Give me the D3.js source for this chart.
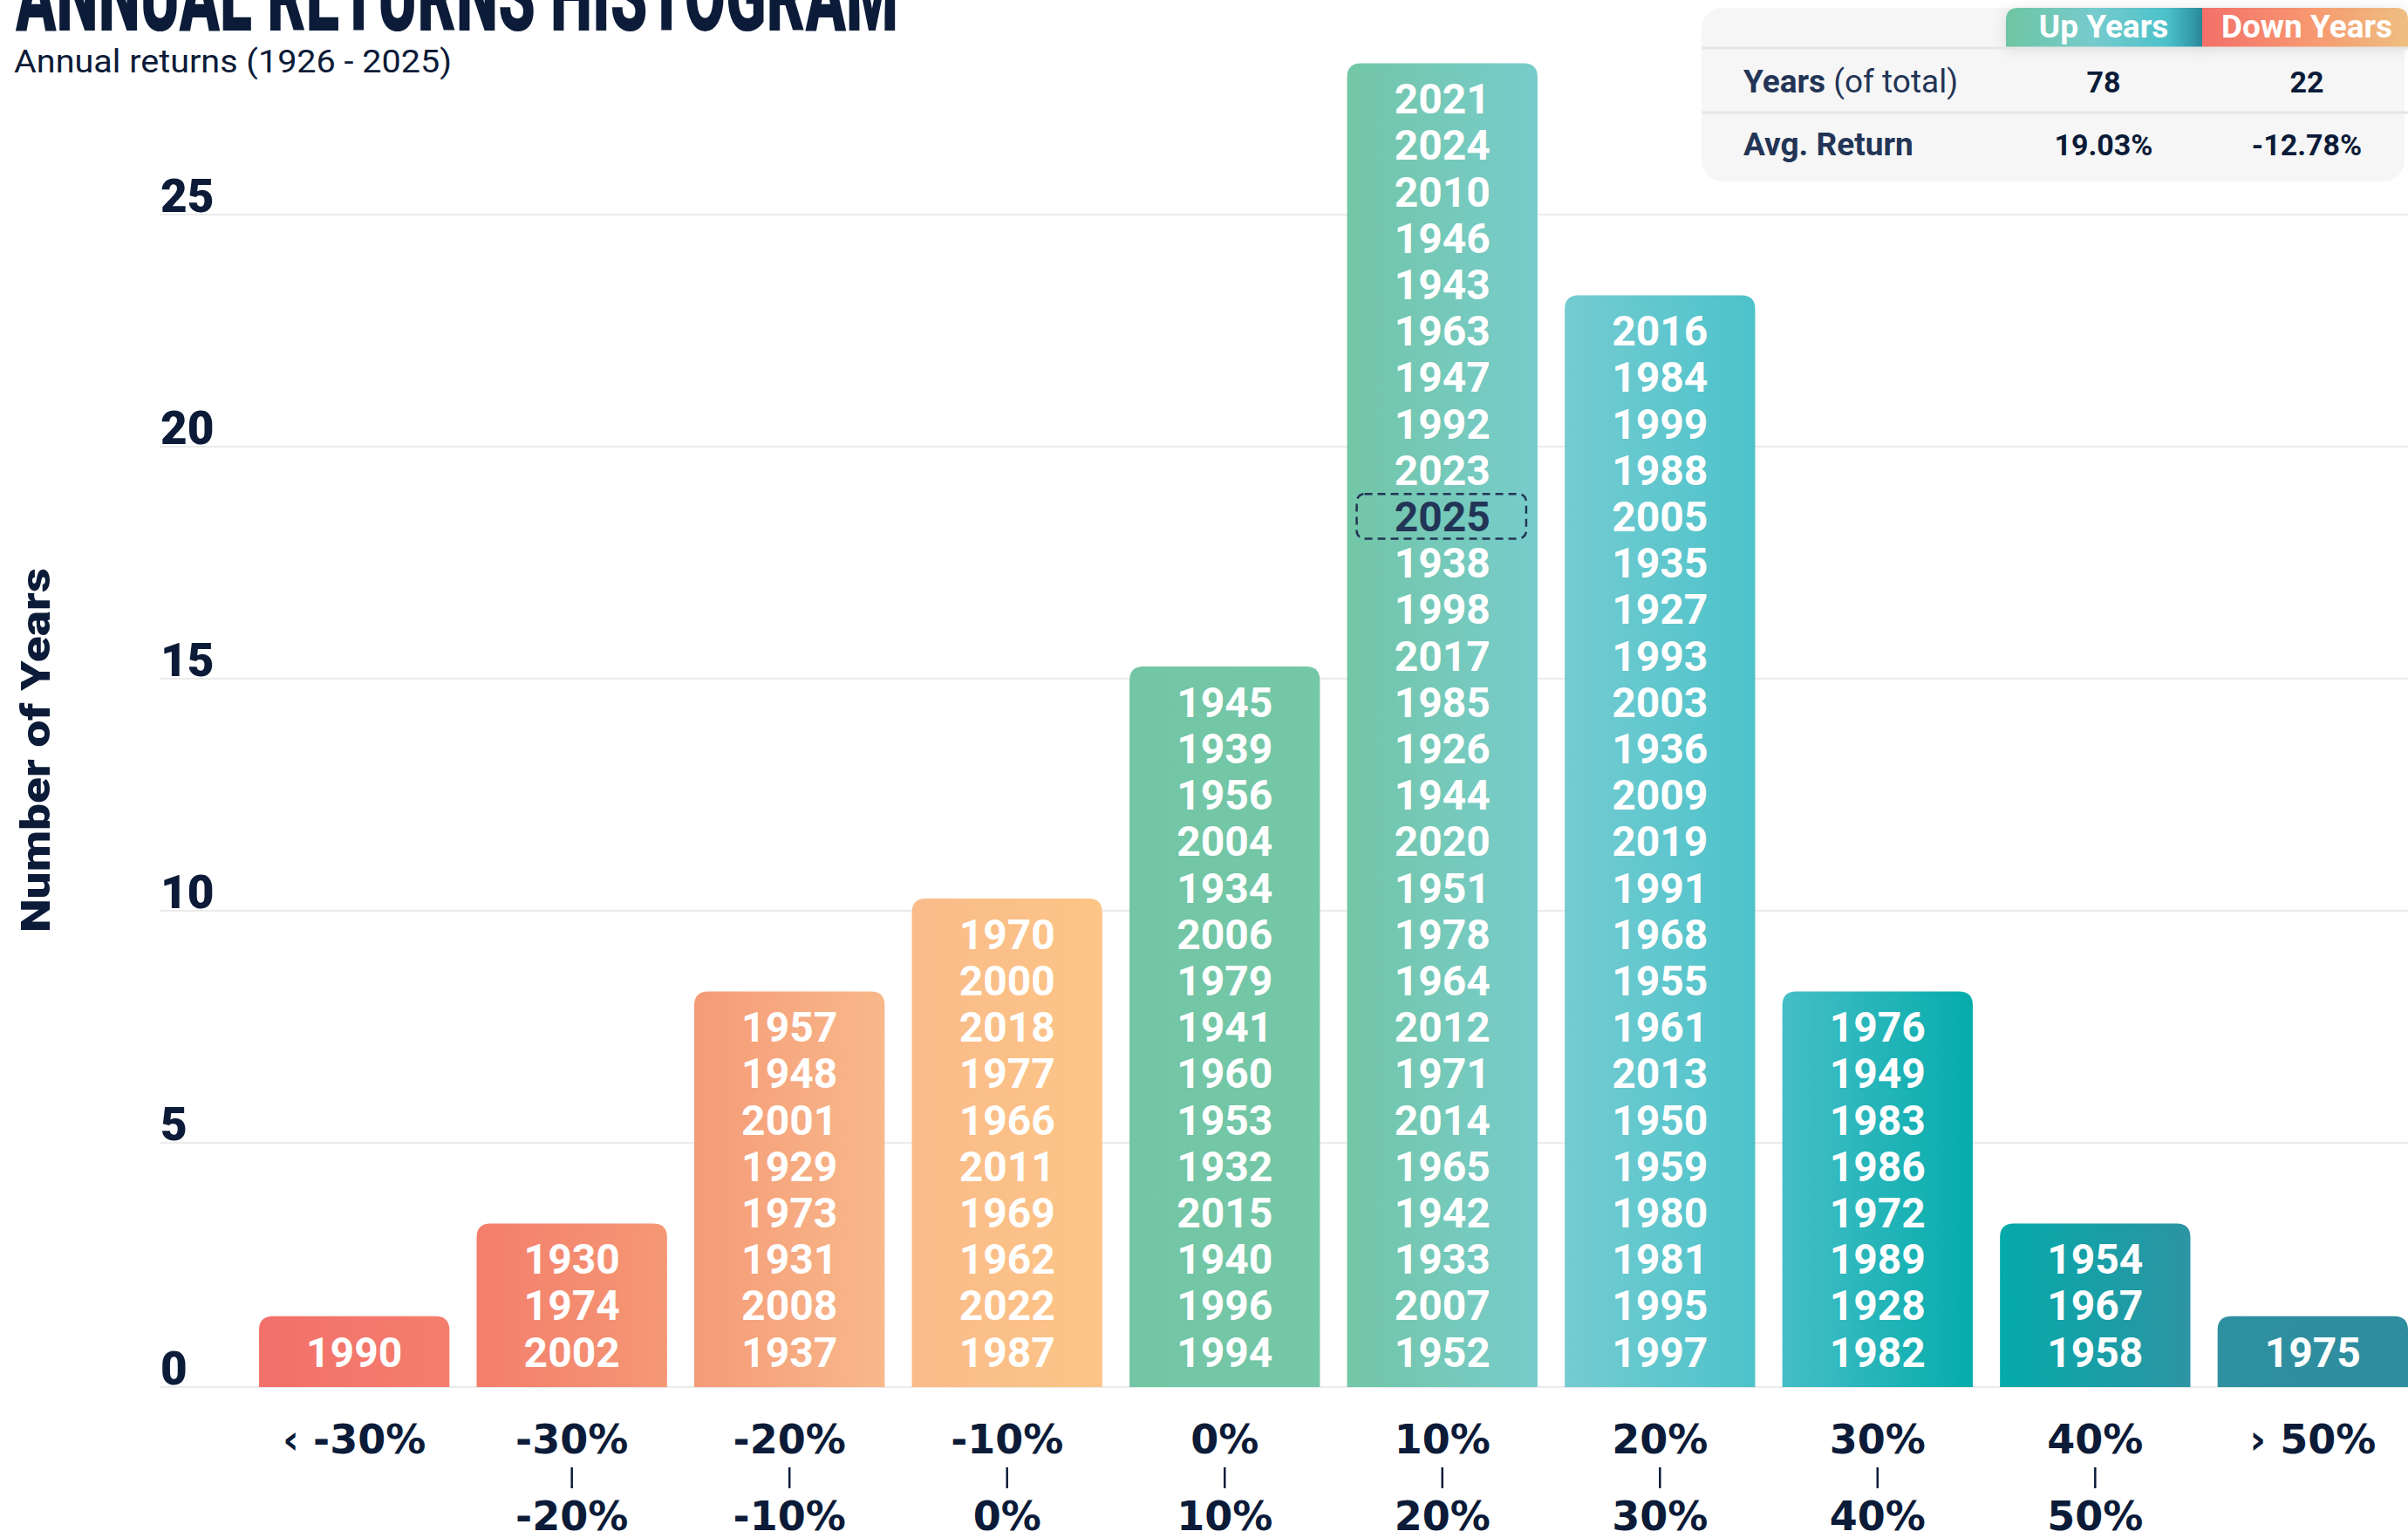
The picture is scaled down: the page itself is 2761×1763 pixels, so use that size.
<!DOCTYPE html>
<html>
<head>
<meta charset="utf-8">
<script src="https://cdn.jsdelivr.net/npm/d3@7"></script>
<style>
  body { margin: 0; background: #fff; }
  svg { display: block; }
</style>
</head>
<body>
<div id="the_chart"></div>
<script>
// bins, read left to right
var binFrom = ["\u2039 -30%", "-30%", "-20%", "-10%", "0%", "10%", "20%", "30%", "40%", "\u203A 50%"];
var binTo = [null, "-20%", "-10%", "0%", "10%", "20%", "30%", "40%", "50%", null];

// years in each bin, top of the bar first
var yearsLt30 = [1990];
var years30to20 = [1930, 1974, 2002];
var years20to10 = [1957, 1948, 2001, 1929, 1973, 1931, 2008, 1937];
var years10to0 = [1970, 2000, 2018, 1977, 1966, 2011, 1969, 1962, 2022, 1987];
var years0to10 = [1945, 1939, 1956, 2004, 1934, 2006, 1979, 1941, 1960, 1953, 1932, 2015, 1940, 1996, 1994];
var years10to20 = [2021, 2024, 2010, 1946, 1943, 1963, 1947, 1992, 2023, 2025, 1938, 1998, 2017, 1985, 1926,
  1944, 2020, 1951, 1978, 1964, 2012, 1971, 2014, 1965, 1942, 1933, 2007, 1952];
var years20to30 = [2016, 1984, 1999, 1988, 2005, 1935, 1927, 1993, 2003, 1936, 2009, 2019, 1991, 1968, 1955,
  1961, 2013, 1950, 1959, 1980, 1981, 1995, 1997];
var years30to40 = [1976, 1949, 1983, 1986, 1972, 1989, 1928, 1982];
var years40to50 = [1954, 1967, 1958];
var yearsGt50 = [1975];

var binYears = [yearsLt30, years30to20, years20to10, years10to0, years0to10,
  years10to20, years20to30, years30to40, years40to50, yearsGt50];

var highlightYear = 2025;
var yTicks = [0, 5, 10, 15, 20, 25];

// summary table
var tableCols = ["Up Years", "Down Years"];
var yearsOfTotal = ["78", "22"];
var avgReturn = ["19.03%", "-12.78%"];

// bar colours, left edge and right edge of each bar
var barLeft = ["#F2706A", "#F37E6C", "#F59B77", "#F9BB8A", "#73C6A5", "#73C6A6", "#74CCD1", "#45BEC6", "#04AAAA", "#2E90A0"];
var barRight = ["#F47E6D", "#F59874", "#F8B88A", "#FDC586", "#74C7A7", "#77CCCC", "#4DC2CA", "#05ACAC", "#2D94A3", "#2F8D9F"];

var navy = "#0B1B38";
var navy2 = "#233556";

var w = 2761;
var h = 1763;
var pad = 14;

var svg = d3.select("#the_chart")
  .append("svg")
  .attr("width", w)
  .attr("height", h);

var defs = svg.append("defs");

var xscale = d3.scaleBand()
  .domain(d3.range(binYears.length))
  .range([297, w])
  .paddingInner(0.125)
  .paddingOuter(0);

var yscale = d3.scaleLinear()
  .domain([0, 25])
  .range([1576, 246]);

function gridY(v) {
  return v === 0 ? yscale(0) + pad : yscale(v);
}

function topRounded(x, y, bw, bh, r) {
  return "M" + x + "," + (y + bh) +
    "V" + (y + r) +
    "Q" + x + "," + y + " " + (x + r) + "," + y +
    "H" + (x + bw - r) +
    "Q" + (x + bw) + "," + y + " " + (x + bw) + "," + (y + r) +
    "V" + (y + bh) + "Z";
}

// gradients per bar
binYears.forEach(function (d, i) {
  var g = defs.append("linearGradient")
    .attr("id", "bar" + i)
    .attr("x1", "0").attr("x2", "1").attr("y1", "0").attr("y2", "0");
  g.append("stop").attr("offset", "0").attr("stop-color", barLeft[i]);
  g.append("stop").attr("offset", "1").attr("stop-color", barRight[i]);
});

// gridlines
svg.selectAll("line.grid")
  .data(yTicks)
  .enter().append("line")
  .attr("class", "grid")
  .attr("x1", 183)
  .attr("x2", w)
  .attr("y1", function (d) { return gridY(d); })
  .attr("y2", function (d) { return gridY(d); })
  .attr("stroke", "#EBEBEB")
  .attr("stroke-width", 2);

svg.selectAll("text.ytick")
  .data(yTicks)
  .enter().append("text")
  .attr("class", "ytick")
  .attr("x", 184)
  .attr("y", function (d) { return gridY(d) - 3; })
  .attr("font-family", "Roboto")
  .attr("font-weight", 900)
  .attr("font-size", 53)
  .attr("fill", navy)
  .text(function (d) { return d; });

// bars
svg.selectAll("path.bar")
  .data(binYears)
  .enter().append("path")
  .attr("class", "bar")
  .attr("d", function (d, i) {
    var top = yscale(d.length) - pad;
    return topRounded(xscale(i), top, xscale.bandwidth(), yscale(0) + pad - top, 16);
  })
  .attr("fill", function (d, i) { return "url(#bar" + i + ")"; });

// year labels inside bars
var cells = [];
binYears.forEach(function (list, i) {
  list.forEach(function (yr, j) {
    cells.push({ bin: i, year: yr, row: list.length - 1 - j });
  });
});

// dashed box around the highlighted year
svg.selectAll("rect.hl")
  .data(cells.filter(function (d) { return d.year === highlightYear; }))
  .enter().append("rect")
  .attr("class", "hl")
  .attr("x", function (d) { return xscale(d.bin) + 11; })
  .attr("y", function (d) { return yscale(d.row + 1) + 1; })
  .attr("width", xscale.bandwidth() - 24)
  .attr("height", function (d) { return yscale(d.row) - yscale(d.row + 1) - 2; })
  .attr("rx", 9)
  .attr("fill", "none")
  .attr("stroke", navy2)
  .attr("stroke-width", 2.5)
  .attr("stroke-dasharray", "9,6");

svg.selectAll("text.year")
  .data(cells)
  .enter().append("text")
  .attr("class", "year")
  .attr("x", function (d) { return xscale(d.bin) + xscale.bandwidth() / 2; })
  .attr("y", function (d) { return yscale(d.row + 0.5); })
  .attr("dy", "0.36em")
  .attr("text-anchor", "middle")
  .attr("font-family", "Roboto")
  .attr("font-weight", 700)
  .attr("font-size", 48)
  .attr("fill", function (d) { return d.year === highlightYear ? navy2 : "#fff"; })
  .text(function (d) { return d.year; });

// x labels
var xl = svg.selectAll("g.xlab")
  .data(binFrom)
  .enter().append("g")
  .attr("class", "xlab")
  .attr("transform", function (d, i) {
    return "translate(" + (xscale(i) + xscale.bandwidth() / 2) + ",0)";
  });

xl.append("text")
  .attr("y", 1666)
  .attr("text-anchor", "middle")
  .attr("font-family", "DejaVu Sans")
  .attr("font-weight", 700)
  .attr("font-size", 46)
  .attr("fill", navy)
  .text(function (d) { return d; });

xl.filter(function (d, i) { return binTo[i] !== null; })
  .append("line")
  .attr("x1", 0).attr("x2", 0)
  .attr("y1", 1682).attr("y2", 1706)
  .attr("stroke", navy)
  .attr("stroke-width", 2.5);

xl.filter(function (d, i) { return binTo[i] !== null; })
  .append("text")
  .attr("y", 1754)
  .attr("text-anchor", "middle")
  .attr("font-family", "DejaVu Sans")
  .attr("font-weight", 700)
  .attr("font-size", 46)
  .attr("fill", navy)
  .text(function (d) { return binTo[binFrom.indexOf(d)]; });

// y axis title
svg.append("text")
  .attr("transform", "translate(57,860) rotate(-90)")
  .attr("text-anchor", "middle")
  .attr("font-family", "Roboto")
  .attr("font-weight", 900)
  .attr("font-size", 46)
  .attr("textLength", 418)
  .attr("lengthAdjust", "spacingAndGlyphs")
  .attr("fill", navy)
  .text("Number of Years");

// title and subtitle
svg.append("text")
  .attr("x", 18)
  .attr("y", 35)
  .attr("font-family", "Roboto")
  .attr("font-weight", 900)
  .attr("font-size", 115)
  .attr("textLength", 1012)
  .attr("lengthAdjust", "spacingAndGlyphs")
  .attr("fill", navy)
  .text("ANNUAL RETURNS HISTOGRAM");

svg.append("text")
  .attr("x", 16)
  .attr("y", 83)
  .attr("font-family", "Roboto")
  .attr("font-size", 37)
  .attr("textLength", 502)
  .attr("lengthAdjust", "spacingAndGlyphs")
  .attr("fill", navy)
  .text("Annual returns (1926 - 2025)");

// summary table
var colX = [2412, 2645];
var cellEdges = [[2300, 2525], [2525, 2761]];

var upG = defs.append("linearGradient").attr("id", "upHead");
upG.append("stop").attr("offset", "0").attr("stop-color", "#6EC5A3");
upG.append("stop").attr("offset", "0.45").attr("stop-color", "#76CBCD");
upG.append("stop").attr("offset", "0.82").attr("stop-color", "#4CC1CA");
upG.append("stop").attr("offset", "1").attr("stop-color", "#2A8C9E");
var downG = defs.append("linearGradient").attr("id", "downHead");
downG.append("stop").attr("offset", "0").attr("stop-color", "#F2706A");
downG.append("stop").attr("offset", "0.5").attr("stop-color", "#F7966F");
downG.append("stop").attr("offset", "1").attr("stop-color", "#EEBF80");

var shadow = defs.append("filter").attr("id", "shadow")
  .attr("x", "-20%").attr("y", "-50%").attr("width", "140%").attr("height", "200%");
shadow.append("feDropShadow")
  .attr("dx", 0).attr("dy", 2).attr("stdDeviation", 8)
  .attr("flood-color", "#000").attr("flood-opacity", 0.10);

var table = svg.append("g");

table.append("rect")
  .attr("x", 1951).attr("y", 9)
  .attr("width", 806).attr("height", 199)
  .attr("rx", 24)
  .attr("fill", "#F6F6F6");

table.selectAll("path.head")
  .data(tableCols)
  .enter().append("path")
  .attr("class", "head")
  .attr("filter", "url(#shadow)")
  .attr("d", function (d, i) {
    var x0 = cellEdges[i][0], x1 = cellEdges[i][1], y0 = 9, y1 = 55, r = 14;
    if (i === 0) {
      return "M" + x0 + "," + y1 + "V" + (y0 + r) + "Q" + x0 + "," + y0 + " " + (x0 + r) + "," + y0 +
        "H" + x1 + "V" + y1 + "Z";
    }
    return "M" + x0 + "," + y1 + "V" + y0 + "H" + (x1 - r) + "Q" + x1 + "," + y0 + " " + x1 + "," + (y0 + r) +
      "V" + y1 + "Z";
  })
  .attr("fill", function (d, i) { return i === 0 ? "url(#upHead)" : "url(#downHead)"; });

table.selectAll("text.head")
  .data(tableCols)
  .enter().append("text")
  .attr("class", "head")
  .attr("x", function (d, i) { return colX[i]; })
  .attr("y", 43)
  .attr("text-anchor", "middle")
  .attr("font-family", "Roboto")
  .attr("font-weight", 700)
  .attr("font-size", 37)
  .attr("fill", "#fff")
  .text(function (d) { return d; });

table.selectAll("line.div")
  .data([55, 129])
  .enter().append("line")
  .attr("x1", 1951).attr("x2", 2761)
  .attr("y1", function (d) { return d; })
  .attr("y2", function (d) { return d; })
  .attr("stroke", "#E6E6E6")
  .attr("stroke-width", 3);

var r1 = table.append("text")
  .attr("x", 1999).attr("y", 106)
  .attr("font-family", "Roboto")
  .attr("font-size", 37)
  .attr("fill", navy2);
r1.append("tspan").attr("font-weight", 700).text("Years");
r1.append("tspan").text(" (of total)");

table.append("text")
  .attr("x", 1999).attr("y", 178)
  .attr("font-family", "Roboto")
  .attr("font-weight", 700)
  .attr("font-size", 37)
  .attr("fill", navy2)
  .text("Avg. Return");

table.selectAll("text.v1")
  .data(yearsOfTotal)
  .enter().append("text")
  .attr("class", "v1")
  .attr("x", function (d, i) { return colX[i]; })
  .attr("y", 106)
  .attr("text-anchor", "middle")
  .attr("font-family", "Roboto")
  .attr("font-weight", 700)
  .attr("font-size", 34)
  .attr("fill", navy)
  .text(function (d) { return d; });

table.selectAll("text.v2")
  .data(avgReturn)
  .enter().append("text")
  .attr("class", "v2")
  .attr("x", function (d, i) { return colX[i]; })
  .attr("y", 178)
  .attr("text-anchor", "middle")
  .attr("font-family", "Roboto")
  .attr("font-weight", 700)
  .attr("font-size", 34)
  .attr("fill", navy)
  .text(function (d) { return d; });
</script>
</body>
</html>
